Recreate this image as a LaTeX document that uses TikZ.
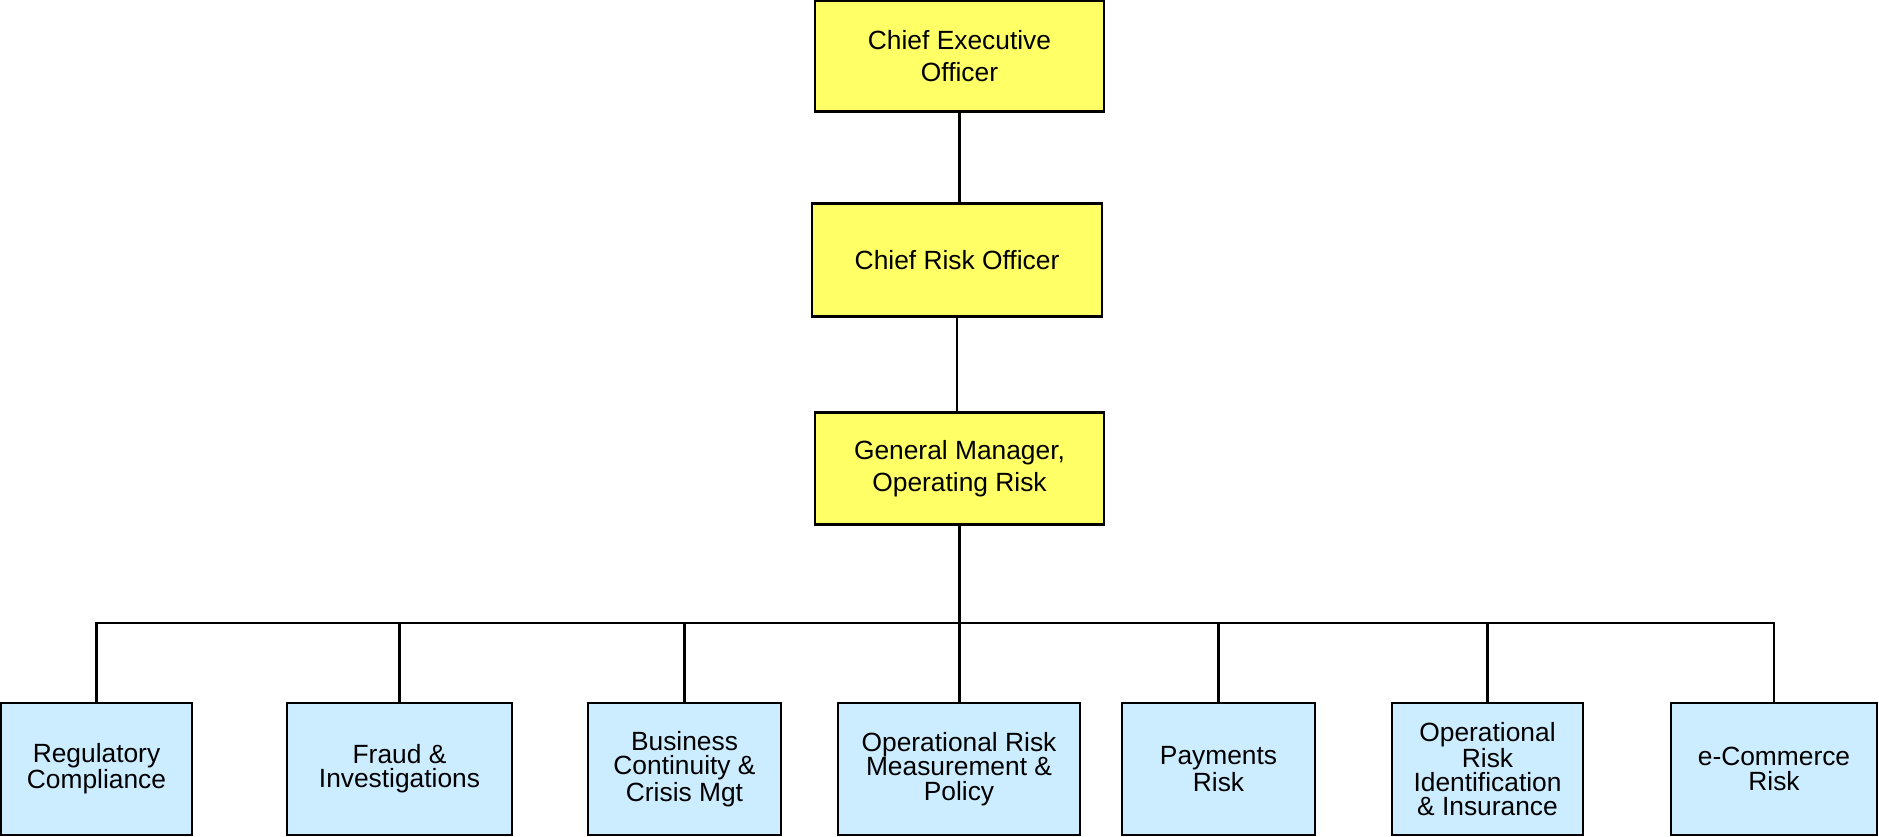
\documentclass[tikz,border=0pt]{standalone}
\usepackage{fontspec}
\setmainfont{Liberation Sans}
\definecolor{boxyellow}{RGB}{255,255,102}
\definecolor{boxblue}{RGB}{204,236,255}
\begin{document}
\begin{tikzpicture}[x=0.02cm,y=-0.02cm,
  topbox/.style={draw=black,line width=1.45pt,fill=boxyellow,inner sep=0pt,align=center,
    font=\fontsize{15}{18.2}\selectfont},
  lowbox/.style={draw=black,line width=1.45pt,fill=boxblue,inner sep=0pt,align=center,
    minimum height=2.64cm,font=\fontsize{15}{13.8}\selectfont},
  conn/.style={line width=1.3pt,black}]
\useasboundingbox (0,0) rectangle (1879,836);
% top chain
\node[topbox,minimum width=5.78cm,minimum height=2.22cm] (ceo) at (959.5,56) {Chief Executive\\Officer};
\node[topbox,minimum width=5.8cm,minimum height=2.25cm] (cro) at (957,260) {Chief Risk Officer};
\node[topbox,minimum width=5.78cm,minimum height=2.25cm] (gm) at (959.5,468.5) {General Manager,\\Operating Risk};
% bottom row
\node[lowbox,minimum width=3.82cm] (b1) at (96.5,769) {Regulatory\\Compliance};
\node[lowbox,minimum width=4.5cm] (b2) at (399.5,769) {Fraud \&\\Investigations};
\node[lowbox,minimum width=3.86cm] (b3) at (684.5,769) {Business\\Continuity \&\\Crisis Mgt};
\node[lowbox,minimum width=4.84cm] (b4) at (959,769) {Operational Risk\\Measurement \&\\Policy};
\node[lowbox,minimum width=3.86cm] (b5) at (1218.5,769) {Payments\\Risk};
\node[lowbox,minimum width=3.82cm] (b6) at (1487.5,769) {Operational\\Risk\\Identification\\\& Insurance};
\node[lowbox,minimum width=4.12cm] (b7) at (1774,769) {e-Commerce\\Risk};
\coordinate (busy) at (0,623);
% connectors
\draw[conn] (ceo.south) -- (ceo.south |- cro.north);
\draw[conn] (cro.south) -- (cro.south |- gm.north);
\draw[conn] (gm.south) -- (gm.south |- b4.north);
\draw[conn] (b1.north) -- (b1.north |- busy) -- (b7.north |- busy) -- (b7.north);
\foreach \b in {b2,b3,b5,b6}{
  \draw[conn] (\b.north) -- (\b.north |- busy);
}
\end{tikzpicture}
\end{document}
